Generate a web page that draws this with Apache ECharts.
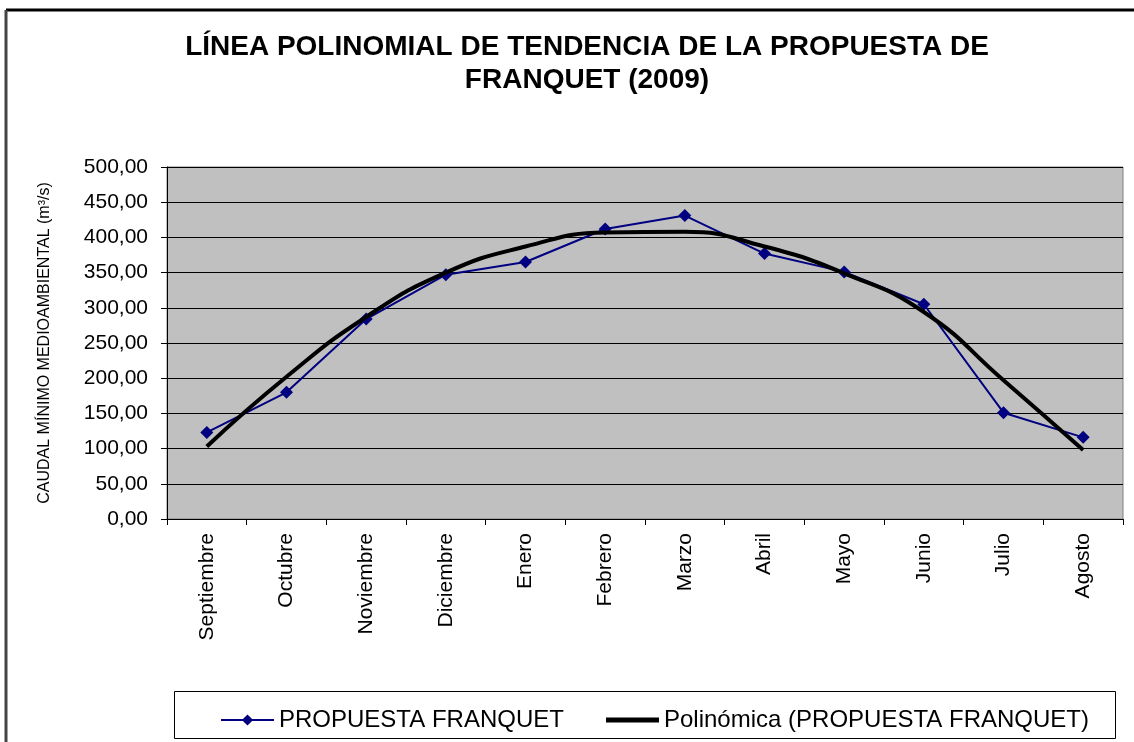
<!DOCTYPE html>
<html>
<head>
<meta charset="utf-8">
<script src="https://cdn.jsdelivr.net/npm/echarts@6/dist/echarts.min.js"></script>
<style>
  html, body { margin: 0; padding: 0; background: #fff; }
  #main { width: 1134px; height: 742px; }
</style>
</head>
<body>
<div id="main"></div>
<script>
// meses (año hidrológico)
var meses = ['Septiembre', 'Octubre', 'Noviembre', 'Diciembre', 'Enero', 'Febrero',
             'Marzo', 'Abril', 'Mayo', 'Junio', 'Julio', 'Agosto'];
// caudal propuesto (m3/s)
var propuesta = [123, 180, 284, 347, 365, 412, 431, 377, 351, 305, 151, 116];
var tendencia = [103, 202, 287, 350, 387, 407, 408, 387, 349, 294, 197, 98];
var ejeY = [0, 500, 50];

var fuente = "'Liberation Sans', Arial, sans-serif";
var myChart = echarts.init(document.getElementById('main'));

var option = {
    backgroundColor: '#ffffff',
    animation: false,
    title: {
        text: 'LÍNEA POLINOMIAL DE TENDENCIA DE LA PROPUESTA DE\nFRANQUET (2009)',
        left: 582,
        textAlign: 'center',
        top: 26,
        textStyle: {
            fontFamily: fuente,
            fontWeight: 'bold',
            fontSize: 28,
            lineHeight: 33,
            color: '#000'
        }
    },
    legend: [
        {
            left: 215,
            top: 703,
            itemWidth: 53,
            itemHeight: 14,
            textStyle: { fontFamily: fuente, fontSize: 24, color: '#000' },
            data: ['PROPUESTA FRANQUET']
        },
        {
            left: 601,
            top: 703,
            itemWidth: 53,
            itemHeight: 5,
            icon: 'rect',
            textStyle: { fontFamily: fuente, fontSize: 24, color: '#000' },
            data: ['Polinómica (PROPUESTA FRANQUET)']
        }
    ],
    grid: {
        left: 167,
        top: 167,
        right: 11,
        bottom: 223,
        show: true,
        backgroundColor: '#C0C0C0',
        borderColor: '#808080',
        borderWidth: 1
    },
    xAxis: {
        type: 'category',
        data: meses,
        boundaryGap: true,
        axisLine: { lineStyle: { color: '#000', width: 1 } },
        axisTick: { show: true, interval: 0, length: 6, lineStyle: { color: '#000' } },
        axisLabel: {
            interval: 0,
            rotate: 90,
            margin: 14,
            fontFamily: fuente,
            fontSize: 21,
            color: '#000'
        }
    },
    yAxis: {
        type: 'value',
        min: ejeY[0],
        max: ejeY[1],
        interval: ejeY[2],
        name: 'CAUDAL MÍNIMO MEDIOAMBIENTAL (m³/s)',
        nameLocation: 'middle',
        nameGap: 114,
        nameTextStyle: { fontFamily: fuente, fontSize: 16, color: '#000' },
        axisLine: { show: true, lineStyle: { color: '#000', width: 1 } },
        axisTick: { show: true, length: 6, lineStyle: { color: '#000' } },
        axisLabel: {
            margin: 19,
            fontFamily: fuente,
            fontSize: 21,
            color: '#000',
            formatter: function (v) { return v.toFixed(2).replace('.', ','); }
        },
        splitLine: { show: true, lineStyle: { color: '#000', width: 1 } }
    },
    series: [
        {
            name: 'PROPUESTA FRANQUET',
            type: 'line',
            data: propuesta,
            symbol: 'diamond',
            symbolSize: 13,
            z: 3,
            itemStyle: { color: '#000080' },
            lineStyle: { color: '#000080', width: 2 }
        },
        {
            name: 'Polinómica (PROPUESTA FRANQUET)',
            type: 'line',
            data: tendencia,
            smooth: 0.5,
            symbol: 'none',
            z: 4,
            itemStyle: { color: '#000' },
            lineStyle: { color: '#000', width: 4 }
        }
    ],
    graphic: [
        // marco exterior del gráfico
        { type: 'line', shape: { x1: 6, y1: 10, x2: 1134, y2: 10 }, style: { stroke: '#000', lineWidth: 3 } },
        { type: 'line', shape: { x1: 6, y1: 10, x2: 6, y2: 742 }, style: { stroke: '#444', lineWidth: 3 } },
        // caja de la leyenda
        { type: 'rect', shape: { x: 174.5, y: 691.5, width: 941, height: 47 },
          style: { fill: 'none', stroke: '#000', lineWidth: 1 }, z: -1 }
    ]
};
myChart.setOption(option);
</script>
</body>
</html>
